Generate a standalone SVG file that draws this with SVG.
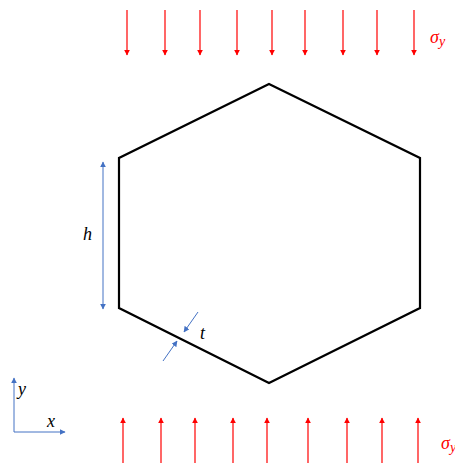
<svg xmlns="http://www.w3.org/2000/svg" width="455" height="463" viewBox="0 0 455 463">
<style>
.red{stroke:#FF0000;stroke-width:1.2;fill:none}
.blue{stroke:#4472C4;stroke-width:1;fill:none}
.lbl{font-family:"Liberation Serif",serif;font-style:italic;font-size:18px}
</style>
<defs>
<marker id="ar" viewBox="0 0 10 10" refX="9" refY="5" markerWidth="6" markerHeight="6" markerUnits="userSpaceOnUse" orient="auto"><path d="M0,0L10,5L0,10z" fill="#FF0000"/></marker>
<marker id="ab" viewBox="0 0 10 10" refX="9" refY="5" markerWidth="6" markerHeight="6" markerUnits="userSpaceOnUse" orient="auto"><path d="M0,0L10,5L0,10z" fill="#4472C4"/></marker>
</defs>
<g id="hexagon">
<polygon points="269,84 420,158 420,308 269,383 119,308 119,158" fill="none" stroke="#000" stroke-width="2.2" stroke-linejoin="miter"/>
</g>
<g id="connectors">
<g id="top-load">
<line class="red" x1="127" y1="10" x2="127" y2="55" marker-end="url(#ar)"/>
<line class="red" x1="165" y1="10" x2="165" y2="55" marker-end="url(#ar)"/>
<line class="red" x1="200" y1="10" x2="200" y2="55" marker-end="url(#ar)"/>
<line class="red" x1="237" y1="10" x2="237" y2="55" marker-end="url(#ar)"/>
<line class="red" x1="272" y1="10" x2="272" y2="55" marker-end="url(#ar)"/>
<line class="red" x1="305" y1="10" x2="305" y2="55" marker-end="url(#ar)"/>
<line class="red" x1="343" y1="10" x2="343" y2="55" marker-end="url(#ar)"/>
<line class="red" x1="377" y1="10" x2="377" y2="55" marker-end="url(#ar)"/>
<line class="red" x1="414" y1="10" x2="414" y2="55" marker-end="url(#ar)"/>
</g>
<g id="bottom-load">
<line class="red" x1="123" y1="463" x2="123" y2="418" marker-end="url(#ar)"/>
<line class="red" x1="161" y1="463" x2="161" y2="418" marker-end="url(#ar)"/>
<line class="red" x1="195" y1="463" x2="195" y2="418" marker-end="url(#ar)"/>
<line class="red" x1="233" y1="463" x2="233" y2="418" marker-end="url(#ar)"/>
<line class="red" x1="267" y1="463" x2="267" y2="418" marker-end="url(#ar)"/>
<line class="red" x1="308" y1="463" x2="308" y2="418" marker-end="url(#ar)"/>
<line class="red" x1="347" y1="463" x2="347" y2="418" marker-end="url(#ar)"/>
<line class="red" x1="382" y1="463" x2="382" y2="418" marker-end="url(#ar)"/>
<line class="red" x1="418" y1="463" x2="418" y2="418" marker-end="url(#ar)"/>
</g>
<g id="h-dim">
<line class="blue" x1="103" y1="236" x2="103" y2="162" marker-end="url(#ab)"/>
<line class="blue" x1="103" y1="236" x2="103" y2="309" marker-end="url(#ab)"/>
</g>
<g id="t-dim">
<line class="blue" x1="198" y1="312" x2="184" y2="332" marker-end="url(#ab)"/>
<line class="blue" x1="163" y1="361" x2="177" y2="341" marker-end="url(#ab)"/>
</g>
<g id="axes">
<line class="blue" x1="14" y1="432" x2="14" y2="378" marker-end="url(#ab)"/>
<line class="blue" x1="14" y1="432" x2="65" y2="432" marker-end="url(#ab)"/>
</g>
</g>
<g id="labels">
<text class="lbl" x="430" y="43" fill="#FF0000">σ<tspan font-size="14" dy="3">y</tspan></text>
<text class="lbl" x="441" y="449" fill="#FF0000">σ<tspan font-size="14" dy="3">y</tspan></text>
<text class="lbl" x="83" y="240" fill="#000">h</text>
<text class="lbl" x="200" y="339" fill="#000">t</text>
<text class="lbl" x="18" y="395" fill="#000">y</text>
<text class="lbl" x="47" y="427" fill="#000">x</text>
</g>
</svg>
